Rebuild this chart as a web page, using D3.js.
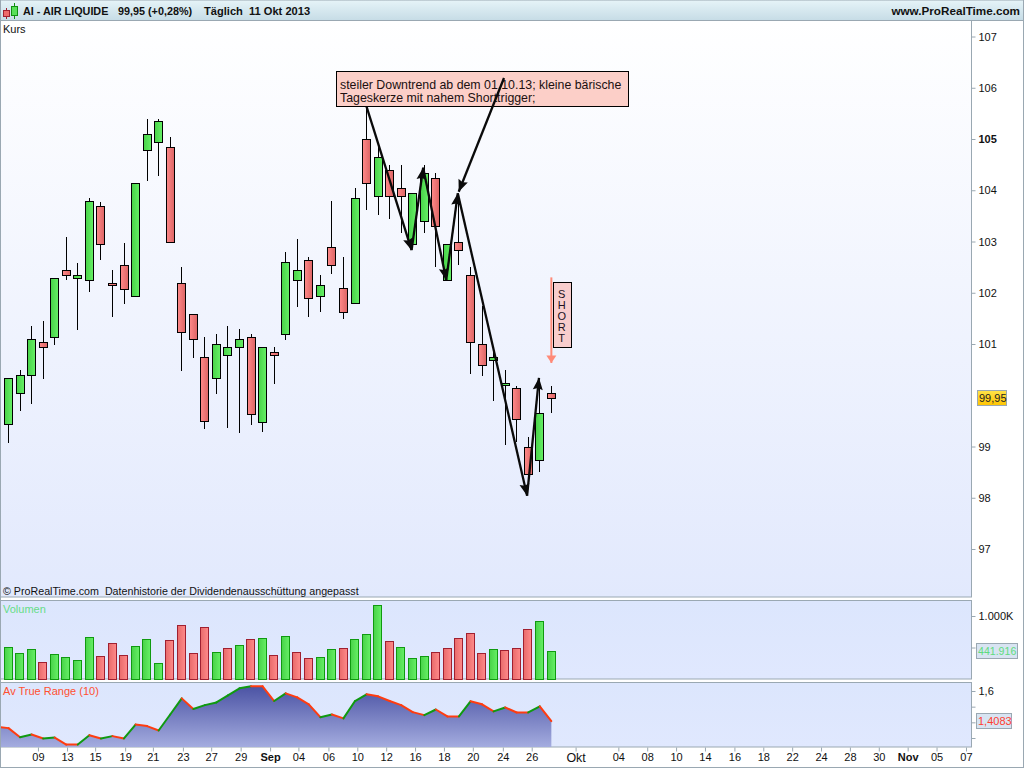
<!DOCTYPE html>
<html><head><meta charset="utf-8">
<script src="https://cdn.jsdelivr.net/npm/d3@7/dist/d3.min.js"></script>
<style>
html,body{margin:0;padding:0;background:#fff;overflow:hidden}
svg{display:block}
text{font-family:"Liberation Sans",Arial,sans-serif;font-size:11px;fill:#111}
</style></head><body>
<script>
// ---------- data ----------
const opens  = [99.43,100.04,100.39,101.03,101.13,102.44,102.28,102.24,103.69,102.18,102.54,101.93,104.78,104.94,104.84,102.18,101.58,100.74,100.33,100.78,100.94,101.13,99.47,100.84,101.19,102.24,102.63,101.93,102.89,102.09,101.80,104.99,103.88,104.39,104.04,102.95,103.39,104.23,102.24,102.98,102.34,100.99,100.68,100.19,100.14,98.98,98.73,100.04];
const highs  = [100.33,100.49,101.35,101.44,102.28,103.09,102.59,103.84,103.78,102.44,102.98,104.14,105.39,105.39,105.04,102.50,101.58,101.13,101.20,101.35,101.29,101.19,100.94,100.94,102.79,103.05,102.69,102.34,103.79,102.70,104.04,105.60,104.92,104.49,104.49,103.94,104.50,104.33,102.95,103.90,102.50,101.74,100.88,100.49,100.19,99.18,100.25,100.19];
const lows   = [99.07,99.70,99.82,100.32,100.99,102.24,101.28,102.02,102.63,101.53,101.79,101.93,104.19,104.28,102.98,100.48,100.73,99.35,100.03,99.37,99.27,99.42,99.29,100.22,101.08,101.73,101.53,101.63,102.37,101.49,101.80,103.62,103.52,103.43,103.17,102.95,103.17,102.50,102.24,102.54,100.42,100.38,99.89,99.02,99.09,98.20,98.51,99.66];
const closes = [100.33,100.39,101.09,100.94,102.28,102.34,102.34,103.78,102.95,102.14,102.08,104.14,105.09,105.35,102.98,101.23,101.09,99.49,100.99,100.94,101.09,99.63,100.94,100.78,102.59,102.44,101.89,102.15,102.54,101.63,103.84,104.14,104.64,103.88,103.88,103.94,104.33,103.30,102.95,102.83,101.03,100.58,100.74,100.23,99.53,98.46,99.65,99.94];
const volumes = [508,413,476,270,397,349,302,667,365,571,381,524,635,254,619,857,413,825,429,492,540,635,651,381,683,429,333,349,476,492,635,714,1175,603,508,333,365,429,492,651,730,413,476,460,492,794,921,442];
const volumeUp = [1,1,1,0,1,1,1,1,0,0,0,1,1,1,0,0,0,0,1,0,1,0,1,0,1,0,0,1,1,0,1,1,1,0,1,1,1,0,0,0,0,0,1,0,0,0,1,1];
const atrPrev = 1.371;
const atr = [1.363,1.305,1.322,1.297,1.303,1.258,1.258,1.318,1.297,1.312,1.297,1.386,1.376,1.348,1.450,1.553,1.485,1.510,1.527,1.572,1.617,1.630,1.630,1.536,1.585,1.559,1.515,1.433,1.450,1.425,1.536,1.579,1.566,1.536,1.510,1.465,1.446,1.482,1.438,1.438,1.534,1.515,1.470,1.495,1.463,1.463,1.502,1.408];
const priceTicks = [97,98,99,101,102,103,104,105,106,107];
const volumeTicks = [500,1000];
const atrTicks = [1.3,1.4,1.5,1.6];
const dateTickBars = [2.55,5.07,7.5,10.1,12.5,15.1,17.55,20.1,22.65,25.1,27.7,30.2,32.7,35.2,37.7,40.2,42.8,45.3,49.1,52.8,55.3,57.8,60.3,62.85,65.35,67.85,70.35,72.85,75.35,77.85,80.35,82.9];
const dateTickLabels = ["09","13","15","19","21","23","27","29","Sep","04","06","10","12","16","18","20","24","26","Okt","04","08","10","14","16","18","22","24","28","30","Nov","05","07"];
const boldDates = ["Sep","Nov"];
const trendPath = [[31,105.63],[34.9,102.83],[35.9,104.44],[37.9,102.25],[38.9,103.94],[44.9,98.04],[45.93,100.34]];
const noteArrow = [[42.9,106.19],[38.98,103.97]];
const shortArrow = [[47,102.3],[47,100.63]];
const noteLines = ["steiler Downtrend ab dem 01.10.13; kleine bärische","Tageskerze mit nahem Shorttrigger;"];
const shortLetters = ["S","H","O","R","T"];
const lastPrice = 99.95, lastVolume = 441.916, lastAtr = 1.4083;

// ---------- layout ----------
const W=1024,H=768,L=1,R=971;
const svg=d3.select("body").append("svg").attr("width",W).attr("height",H);
const defs=svg.append("defs");
function grad(id,x2,y2,stops){
  const g=defs.append("linearGradient").attr("id",id).attr("x1",0).attr("y1",0).attr("x2",x2).attr("y2",y2);
  stops.forEach(s=>g.append("stop").attr("offset",s[0]).attr("stop-color",s[1]));
  return g;
}
grad("hdr",0,1,[[0,"#e6f4f8"],[1,"#c6dce6"]]);
grad("main",0,1,[[0,"#ffffff"],[1,"#e2e9fd"]]);
grad("sub",0,1,[[0,"#dce6fd"],[1,"#e0e8fe"]]);
grad("up",1,0,[[0,"#48d248"],[1,"#66f066"]]);
grad("down",1,0,[[0,"#ff8a8a"],[1,"#dc6464"]]);
grad("vup",1,0,[[0,"#48d248"],[1,"#66f066"]]);
grad("vdown",1,0,[[0,"#e86a6a"],[1,"#ff8a8a"]]);
grad("area",0,1,[[0,"#4b53a4"],[1,"#a4acdf"]]);
grad("gold",0,1,[[0,"#ffe34a"],[1,"#ffc400"]]);

const xs=d3.scaleLinear().domain([0,47]).range([8.5,551.35]);
const yP=d3.scaleLinear().domain([97,107]).range([549,36.5]);
const yV=d3.scaleLinear().domain([0,1000]).range([679,616]);
const yA=d3.scaleLinear().domain([1.3,1.6]).range([738,691]);
const snap=v=>Math.round(v-0.5)+0.5;
const BORDER="#9aa8b2";

// ---------- frames ----------
svg.append("rect").attr("x",0).attr("y",0).attr("width",W-0.5).attr("height",20.5).attr("fill","url(#hdr)").attr("stroke",BORDER);
svg.append("rect").attr("x",0.5).attr("y",20.5).attr("width",R).attr("height",576.5).attr("fill","url(#main)").attr("stroke",BORDER);
svg.append("rect").attr("x",0.5).attr("y",600.5).attr("width",R).attr("height",78.5).attr("fill","url(#sub)").attr("stroke",BORDER);
svg.append("rect").attr("x",0.5).attr("y",682.5).attr("width",R).attr("height",64.5).attr("fill","url(#sub)").attr("stroke",BORDER);
svg.append("line").attr("x1",0.5).attr("x2",0.5).attr("y1",0).attr("y2",H).attr("stroke",BORDER);
svg.append("line").attr("x1",W-0.5).attr("x2",W-0.5).attr("y1",0).attr("y2",H).attr("stroke",BORDER);
svg.append("line").attr("x1",0).attr("x2",W).attr("y1",767.5).attr("y2",767.5).attr("stroke",BORDER);

// ---------- header ----------
const icon=svg.append("g");
icon.append("line").attr("x1",6.5).attr("x2",6.5).attr("y1",8).attr("y2",19).attr("stroke","#a02030");
icon.append("rect").attr("x",3.5).attr("y",10.5).attr("width",6).attr("height",6).attr("fill","#ee6a6a").attr("stroke","#a02030");
icon.append("line").attr("x1",14.5).attr("x2",14.5).attr("y1",3).attr("y2",19).attr("stroke","#109010");
icon.append("rect").attr("x",11.5).attr("y",6.5).attr("width",6).attr("height",9).attr("fill","#58e058").attr("stroke","#109010");
svg.append("text").attr("x",23).attr("y",15).attr("font-weight","bold").style("font-size","10.8px").text("AI - AIR LIQUIDE");
svg.append("text").attr("x",118).attr("y",15).attr("font-weight","bold").style("font-size","10.8px").text("99,95 (+0,28%)");
svg.append("text").attr("x",204).attr("y",15).attr("font-weight","bold").style("font-size","11.1px").style("white-space","pre").text("Täglich  11 Okt 2013");
svg.append("text").attr("x",1020).attr("y",15).attr("text-anchor","end").attr("font-weight","bold").style("font-size","11.7px").text("www.ProRealTime.com");
svg.append("text").attr("x",3).attr("y",33).text("Kurs");
svg.append("text").attr("x",3).attr("y",595).style("white-space","pre").style("font-size","10.7px").text("© ProRealTime.com  Datenhistorie der Dividendenausschüttung angepasst");
svg.append("text").attr("x",3).attr("y",613).style("fill","#66dd88").text("Volumen");
svg.append("text").attr("x",3).attr("y",695).style("fill","#ff5030").text("Av True Range (10)");

// ---------- candles ----------
const bars=d3.range(closes.length);
const cg=svg.append("g").selectAll("g").data(bars).join("g");
cg.append("line").attr("x1",i=>snap(xs(i))).attr("x2",i=>snap(xs(i)))
  .attr("y1",i=>yP(highs[i])).attr("y2",i=>yP(lows[i])).attr("stroke","#000").attr("shape-rendering","crispEdges");
cg.append("rect").attr("x",i=>snap(xs(i))-4).attr("width",8)
  .attr("y",i=>snap(yP(Math.max(opens[i],closes[i]))))
  .attr("height",i=>Math.max(1,Math.round(Math.abs(yP(opens[i])-yP(closes[i])))))
  .attr("fill",i=>closes[i]>=opens[i]?"url(#up)":"url(#down)")
  .attr("stroke","#000").attr("shape-rendering","crispEdges");

// ---------- annotations ----------
function arrowHead(g,from,to,fill,len,wid,notch){
  const a=Math.atan2(to[1]-from[1],to[0]-from[0]);
  const p=[to,[to[0]-len*Math.cos(a)+wid*Math.sin(a),to[1]-len*Math.sin(a)-wid*Math.cos(a)],
           [to[0]-len*notch*Math.cos(a),to[1]-len*notch*Math.sin(a)],
           [to[0]-len*Math.cos(a)-wid*Math.sin(a),to[1]-len*Math.sin(a)+wid*Math.cos(a)]];
  g.append("path").attr("d",d3.line()(p)+"Z").attr("fill",fill);
}
const note=svg.append("g");
note.append("rect").attr("x",336.5).attr("y",71.5).attr("width",292).attr("height",35).attr("fill","#fccfc8").attr("stroke","#000");
note.selectAll("text").data(noteLines).join("text").attr("x",340).attr("y",(d,i)=>88.5+i*13).style("font-size","12.35px").style("fill","#201010").text(d=>d);

const pt=d=>[xs(d[0]),yP(d[1])];
const ag=svg.append("g");
function drawArrows(list,color,w,len,wid,notch){
  for(let k=0;k<list.length-1;k++){
    const a=pt(list[k]),b=pt(list[k+1]);
    ag.append("line").attr("x1",a[0]).attr("y1",a[1]).attr("x2",b[0]).attr("y2",b[1]).attr("stroke",color).attr("stroke-width",w);
    arrowHead(ag,a,b,color,len,wid,notch);
  }
}
drawArrows(trendPath,"#0a0a0a",2.3,12,5,0.85);
drawArrows(noteArrow,"#0a0a0a",2.3,12,5,0.85);
drawArrows(shortArrow,"#ff8a78",2,7.5,5,1);

const sb=svg.append("g");
sb.append("rect").attr("x",553.5).attr("y",282.5).attr("width",18).attr("height",65).attr("fill","#f8cdcd").attr("stroke","#000");
sb.selectAll("text").data(shortLetters).join("text").attr("x",561.7).attr("y",(d,i)=>298+i*11).attr("text-anchor","middle").style("fill","#201020").text(d=>d);

// ---------- volume ----------
svg.append("g").selectAll("rect").data(bars).join("rect")
  .attr("x",i=>Math.round(xs(i)-4.8)+0.5).attr("width",8)
  .attr("y",i=>Math.round(yV(volumes[i]))+0.5)
  .attr("height",i=>678.5-Math.round(yV(volumes[i])))
  .attr("fill",i=>volumeUp[i]?"url(#vup)":"url(#vdown)")
  .attr("stroke",i=>volumeUp[i]?"#109a10":"#a02030").attr("shape-rendering","crispEdges");

// ---------- ATR ----------
const atrX=i=>xs(i), atrAll=[atrPrev].concat(atr);
defs.append("clipPath").attr("id","atrClip").append("rect").attr("x",1).attr("y",683).attr("width",970).attr("height",64);
const ap=svg.append("g").attr("clip-path","url(#atrClip)");
ap.append("path").datum(atrAll).attr("fill","url(#area)")
  .attr("d",d3.area().x((d,i)=>atrX(i-1)).y0(747).y1(d=>yA(d)));
ap.selectAll("line").data(d3.range(1,atrAll.length)).join("line")
  .attr("x1",i=>atrX(i-2)).attr("x2",i=>atrX(i-1))
  .attr("y1",i=>yA(atrAll[i-1])).attr("y2",i=>yA(atrAll[i]))
  .attr("stroke",i=>atrAll[i]>atrAll[i-1]?"#0f9a10":"#ff3c10")
  .attr("stroke-width",2).attr("stroke-linecap","round");

// ---------- axes ----------
function styleAxis(g){
  g.select(".domain").remove();
  g.selectAll(".tick line").attr("stroke",BORDER);
  g.selectAll(".tick text").style("font-size","11px").style("font-family",'"Liberation Sans",Arial,sans-serif').style("fill","#111");
}
svg.append("g").attr("transform","translate(971.5,0)")
  .call(d3.axisRight(yP).tickValues(priceTicks).tickSize(4).tickPadding(3).tickFormat(d=>d))
  .call(styleAxis)
  .selectAll(".tick text").attr("font-weight",d=>d===105?"bold":null);
svg.append("g").attr("transform","translate(971.5,0)")
  .call(d3.axisRight(yV).tickValues(volumeTicks).tickSize(4).tickPadding(3).tickFormat(d=>d===1000?"1.000K":""))
  .call(styleAxis);
svg.append("g").attr("transform","translate(971.5,0)")
  .call(d3.axisRight(yA).tickValues(atrTicks).tickSize(4).tickPadding(3).tickFormat(d=>d===1.6?"1,6":""))
  .call(styleAxis);
svg.append("g").attr("transform","translate(0,747.5)")
  .call(d3.axisBottom(xs).tickValues(dateTickBars).tickSize(4).tickPadding(2).tickFormat((d,i)=>dateTickLabels[i]))
  .call(styleAxis)
  .selectAll(".tick text").each(function(d,i){
    const lab=dateTickLabels[i];
    d3.select(this).attr("font-weight",boldDates.includes(lab)?"bold":null);
    if(lab==="Okt") d3.select(this).style("font-size","12.5px");
  });

// ---------- value tags ----------
function tag(x,yc,w,txt,fill,color,size){
  const g=svg.append("g");
  g.append("rect").attr("x",x+0.5).attr("y",Math.round(yc-8)+0.5).attr("width",w).attr("height",15).attr("fill",fill).attr("stroke",BORDER);
  g.append("text").attr("x",x+2).attr("y",Math.round(yc-8)+12).style("font-size",size).style("fill",color).text(txt);
}
tag(977,yP(lastPrice),29,d3.format(".2f")(lastPrice).replace(".",","),"url(#gold)","#222","11px");
tag(976,yV(lastVolume),41,"441.916","#d8e4f2","#5fdc7f","10.6px");
tag(976,yA(lastAtr),35,"1,4083","#d8e4f2","#ff4030","11px");
</script>
</body></html>
